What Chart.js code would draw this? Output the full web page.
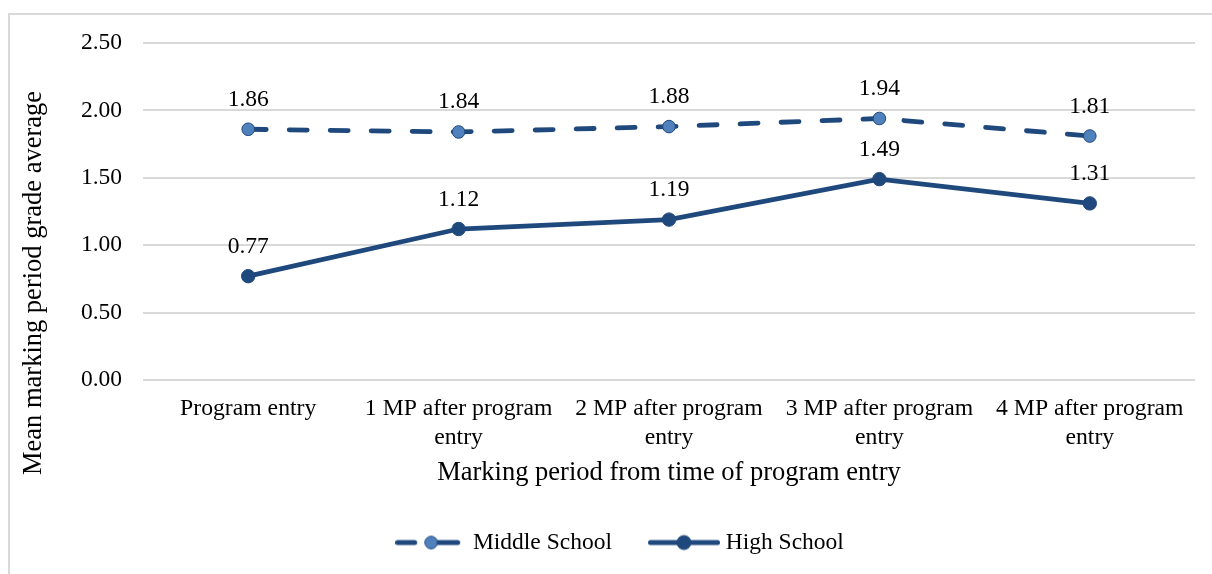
<!DOCTYPE html>
<html>
<head>
<meta charset="utf-8">
<script src="https://cdn.jsdelivr.net/npm/chart.js@4/dist/chart.umd.min.js"></script>
<style>
  html, body { margin: 0; padding: 0; background: #fff; overflow: hidden; }
  #frame { position: absolute; left: 8px; top: 13px; width: 1400px; height: 800px;
           border: 2px solid #d9d9d9; box-sizing: border-box; }
  #wrap { position: absolute; left: 0; top: 0; width: 1212px; height: 574px; }
</style>
</head>
<body>
<div id="frame"></div>
<div id="wrap"><canvas id="chart" width="1212" height="574"></canvas></div>
<script>
// Marking periods and mean grade averages
const categories = [
  'Program entry',
  ['1 MP after program', 'entry'],
  ['2 MP after program', 'entry'],
  ['3 MP after program', 'entry'],
  ['4 MP after program', 'entry']
];
const middleSchool = [1.86, 1.84, 1.88, 1.94, 1.81];
const highSchool = [0.77, 1.12, 1.19, 1.49, 1.31];
const seriesNames = ['Middle School', 'High School'];
const yMin = 0, yMax = 2.5, yStep = 0.5;
const xTitle = 'Marking period from time of program entry';
const yTitle = 'Mean marking period grade average';

const SERIF = "'Liberation Serif', 'Times New Roman', serif";
const DARK = '#1f497d';
const LIGHT = '#4f81bd';

// Small line-and-marker swatches for the legend
function makeSwatch(dashed) {
  const c = document.createElement('canvas');
  c.width = 72; c.height = 20;
  const g = c.getContext('2d');
  g.strokeStyle = DARK;
  g.lineWidth = 5;
  g.lineCap = 'round';
  g.beginPath();
  if (dashed) {
    g.moveTo(2.5, 10); g.lineTo(19.5, 10);
    g.moveTo(36, 10); g.lineTo(62.5, 10);
  } else {
    g.moveTo(2.5, 10); g.lineTo(69.5, 10);
  }
  g.stroke();
  g.beginPath();
  g.arc(36, 10, dashed ? 6.3 : 7, 0, Math.PI * 2);
  g.fillStyle = dashed ? LIGHT : DARK;
  g.fill();
  g.lineWidth = 1;
  g.strokeStyle = DARK;
  g.stroke();
  return c;
}
const swatches = [makeSwatch(true), makeSwatch(false)];

// Value labels above each point
const valueLabels = {
  id: 'valueLabels',
  afterDatasetsDraw(chart) {
    const ctx = chart.ctx;
    ctx.save();
    ctx.font = '23.5px ' + SERIF;
    ctx.fillStyle = '#000';
    ctx.textAlign = 'center';
    ctx.textBaseline = 'alphabetic';
    chart.data.datasets.forEach((ds, di) => {
      const meta = chart.getDatasetMeta(di);
      meta.data.forEach((pt, i) => {
        ctx.fillText(ds.data[i].toFixed(2), pt.x, pt.y - 23.5);
      });
    });
    ctx.restore();
  }
};

// Vertical axis title, centred on the whole figure height
const sideTitle = {
  id: 'sideTitle',
  afterDraw(chart) {
    const ctx = chart.ctx;
    ctx.save();
    ctx.translate(34, 283);
    ctx.rotate(-Math.PI / 2);
    ctx.font = '26.5px ' + SERIF;
    ctx.fillStyle = '#000';
    ctx.textAlign = 'center';
    ctx.textBaseline = 'middle';
    ctx.fillText(yTitle, 0, 0);
    ctx.restore();
  }
};

new Chart(document.getElementById('chart'), {
  type: 'line',
  data: {
    labels: categories,
    datasets: [
      {
        label: seriesNames[0],
        data: middleSchool,
        borderColor: DARK,
        backgroundColor: LIGHT,
        borderWidth: 4.8,
        borderDash: [18, 23],
        borderCapStyle: 'round',
        tension: 0,
        pointRadius: 6.3,
        pointBorderWidth: 1,
        pointBackgroundColor: LIGHT,
        pointBorderColor: DARK
      },
      {
        label: seriesNames[1],
        data: highSchool,
        borderColor: DARK,
        backgroundColor: DARK,
        borderWidth: 4.8,
        borderCapStyle: 'round',
        tension: 0,
        pointRadius: 6.7,
        pointBorderWidth: 1,
        pointBackgroundColor: DARK,
        pointBorderColor: DARK
      }
    ]
  },
  options: {
    responsive: false,
    animation: false,
    devicePixelRatio: 1,
    layout: { padding: { left: 50, right: 17, top: 43, bottom: 9.7 } },
    scales: {
      x: {
        offset: true,
        grid: { display: false, drawTicks: false },
        border: { display: false },
        ticks: { color: '#000', padding: 15, maxRotation: 0, autoSkip: false,
                 font: { family: SERIF, size: 23.7, lineHeight: 1.2 } },
        title: { display: true, text: xTitle, color: '#000',
                 padding: { top: 0, bottom: 0 },
                 font: { family: SERIF, size: 26.5, lineHeight: 1.2 } },
        afterFit(scale) { scale.height = 108.8; }
      },
      y: {
        min: yMin, max: yMax,
        grid: { color: '#d9d9d9', lineWidth: 2, drawTicks: false },
        border: { display: false },
        ticks: { stepSize: yStep, color: '#000', padding: 21,
                 font: { family: SERIF, size: 23.5 },
                 callback: v => Number(v).toFixed(2) },
        afterFit(scale) { scale.width = 93; }
      }
    },
    plugins: {
      tooltip: { enabled: false },
      legend: {
        position: 'bottom',
        labels: {
          usePointStyle: true,
          pointStyleWidth: 60,
          padding: 42,
          color: '#000',
          font: { family: SERIF, size: 23.5 },
          generateLabels(chart) {
            return chart.data.datasets.map((ds, i) => ({
              text: ds.label,
              fillStyle: ds.backgroundColor,
              strokeStyle: ds.borderColor,
              lineWidth: 0,
              pointStyle: swatches[i],
              fontColor: '#000',
              hidden: !chart.isDatasetVisible(i),
              datasetIndex: i
            }));
          }
        }
      }
    }
  },
  plugins: [valueLabels, sideTitle]
});
</script>
</body>
</html>
